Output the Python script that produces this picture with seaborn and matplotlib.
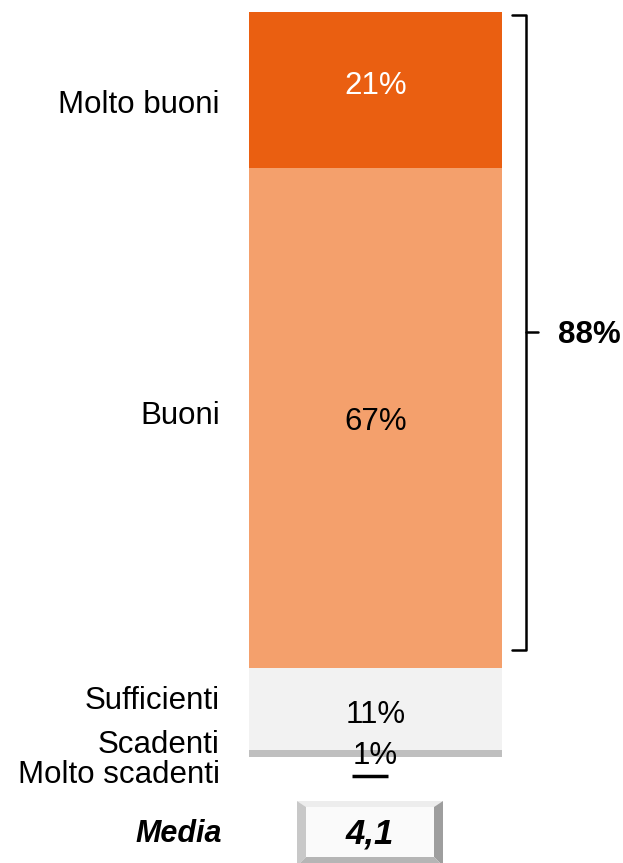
import matplotlib
matplotlib.use("Agg")
import matplotlib.pyplot as plt
from matplotlib.patches import Rectangle, Polygon
import seaborn as sns
import numpy as np

sns.set_style("white")
plt.rcParams['font.family'] = ['Liberation Sans', 'DejaVu Sans']
plt.rcParams['text.color'] = 'black'

# ---- data ----
categories = ["Molto scadenti", "Scadenti", "Sufficienti", "Buoni", "Molto buoni"]
values = [0, 1, 11, 67, 21]
value_labels = ["", "1%", "11%", "67%", "21%"]
colors = ["#FFFFFF", "#BFBFBF", "#F2F2F2", "#F4A06C", "#EA5F11"]
label_colors = ["black", "black", "black", "black", "white"]
top2_label = "88%"
media_label = "Media"
media_value = "4,1"

# ---- layout ----
W, H = 623, 863
fig = plt.figure(figsize=(W / 100, H / 100), dpi=100)
bar_left, bar_right, bar_top, bar_bottom = 249, 502, 12, 757
ax = fig.add_axes([bar_left / W, 1 - bar_bottom / H,
                   (bar_right - bar_left) / W, (bar_bottom - bar_top) / H])

cum = np.cumsum(values)
for i in range(len(categories) - 1, -1, -1):
    if values[i] <= 0:
        continue
    sns.barplot(x=[0], y=[cum[i]], color=colors[i], width=1, saturation=1,
                ax=ax, linewidth=0)

ax.set_xlim(-0.5, 0.5)
ax.set_ylim(0, 100)
ax.axis("off")

FS = 22.5
mids = cum - np.array(values) / 2
value_offsets = [0, -0.3, -0.9, -0.6, 0.6]
for i, lab in enumerate(value_labels):
    if lab:
        ax.text(0, mids[i] + value_offsets[i], lab, ha="center", va="center",
                fontsize=FS, color=label_colors[i])

# category labels (left side)
cat_label_y = [-2.4, 1.6, 7.5, 45.8, 87.5]
for i, c in enumerate(categories):
    ax.text(-0.615, cat_label_y[i], c, ha="right", va="center", fontsize=FS,
            color="black", clip_on=False)

# short line for 0% (Molto scadenti)
ax.plot([-0.093, 0.049], [-2.6, -2.6], color="black", lw=2.5, clip_on=False,
        solid_capstyle="butt")

# brace for top 2
y_top, y_bot = 99.6, 14.4
y_mid = (y_top + y_bot) / 2
bx0, bx1, bx2 = 0.54, 0.593, 0.642
ax.plot([bx0, bx1, bx1, bx0], [y_top, y_top, y_bot, y_bot], color="black",
        lw=1.8, clip_on=False, solid_joinstyle="round")
ax.plot([bx1, bx2], [y_mid, y_mid], color="black", lw=1.8, clip_on=False)
ax.text(0.721, y_mid - 0.4, top2_label, ha="left", va="center", fontsize=FS,
        fontweight="bold", clip_on=False)

# Media box (figure pixel coordinates)
def fx(px):
    return px / W

def fy(py):
    return 1 - py / H

x0, x1, y0, y1 = 297, 443, 801, 866
ins_l, ins_r, ins_t, ins_b = 9, 9, 6, 9
faces = [
    ([(x0, y0), (x1, y0), (x1 - ins_r, y0 + ins_t), (x0 + ins_l, y0 + ins_t)], "#EDEDED"),
    ([(x0, y0), (x0 + ins_l, y0 + ins_t), (x0 + ins_l, y1 - ins_b), (x0, y1)], "#C8C8C8"),
    ([(x1, y0), (x1, y1), (x1 - ins_r, y1 - ins_b), (x1 - ins_r, y0 + ins_t)], "#9E9E9E"),
    ([(x0, y1), (x0 + ins_l, y1 - ins_b), (x1 - ins_r, y1 - ins_b), (x1, y1)], "#B5B5B5"),
]
for pts, col in faces:
    fig.patches.append(Polygon([(fx(a), fy(b)) for a, b in pts], closed=True,
                               transform=fig.transFigure, facecolor=col,
                               edgecolor="none"))
fig.patches.append(Rectangle((fx(x0 + ins_l), fy(y1 - ins_b)),
                             fx(x1 - x0 - ins_l - ins_r), (y1 - y0 - ins_t - ins_b) / H,
                             transform=fig.transFigure, facecolor="#FAFAFA",
                             edgecolor="none"))
fig.text(fx((x0 + x1) / 2), fy(834), media_value, ha="center", va="center",
         fontsize=25, fontweight="bold", fontstyle="italic")
fig.text(fx(222), fy(834), media_label, ha="right", va="center",
         fontsize=22, fontweight="bold", fontstyle="italic")

fig.savefig("out.png", dpi=100)
